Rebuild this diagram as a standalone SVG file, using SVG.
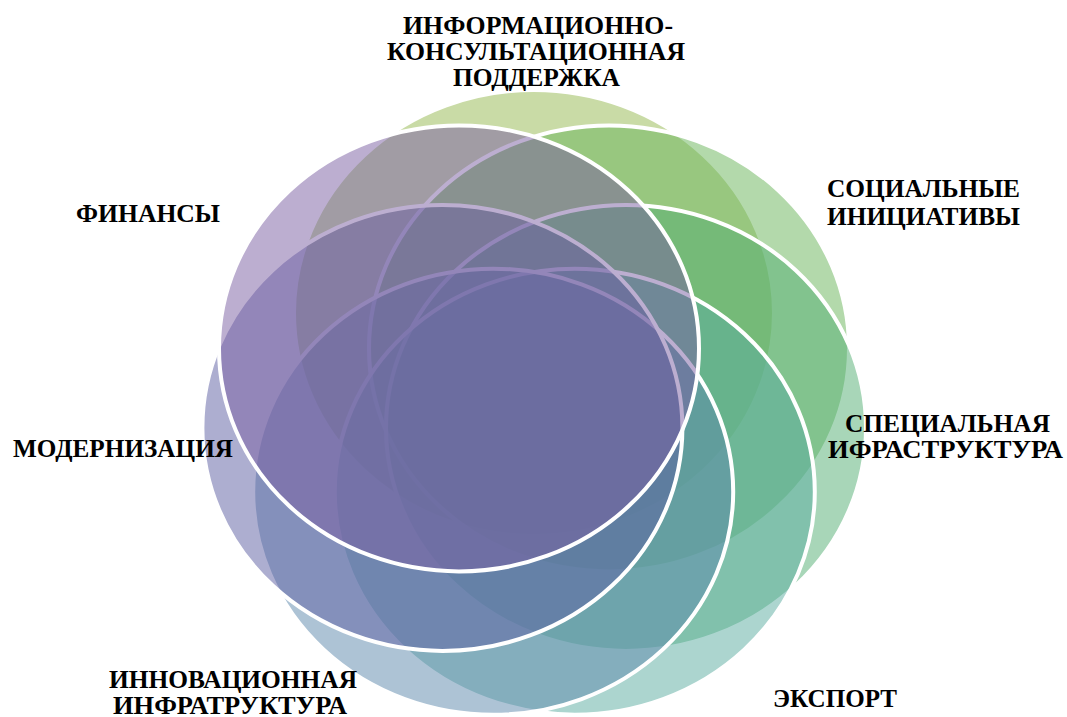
<svg xmlns="http://www.w3.org/2000/svg" width="1067" height="717" viewBox="0 0 1067 717">
<style>
.c{stroke:#ffffff;stroke-width:4;fill-opacity:0.5}
text{font-family:'Liberation Serif','Times New Roman',serif;font-weight:700;font-size:26px;fill:#000000}
</style>
<rect x="0" y="0" width="1067" height="717" fill="#ffffff"/>
<g id="node-info">
<ellipse class="c" cx="534" cy="313" rx="240" ry="223" fill="#93b74d"/>
<text x="403" y="34" textLength="270" lengthAdjust="spacingAndGlyphs">ИНФОРМАЦИОННО-</text>
<text x="387" y="60" textLength="298" lengthAdjust="spacingAndGlyphs">КОНСУЛЬТАЦИОННАЯ</text>
<text x="453" y="86" textLength="167" lengthAdjust="spacingAndGlyphs">ПОДДЕРЖКА</text>
</g>
<g id="node-social">
<ellipse class="c" cx="609" cy="348.4" rx="240" ry="223" fill="#67b357"/>
<text x="827" y="197" textLength="193" lengthAdjust="spacingAndGlyphs">СОЦИАЛЬНЫЕ</text>
<text x="827" y="225" textLength="193" lengthAdjust="spacingAndGlyphs">ИНИЦИАТИВЫ</text>
</g>
<g id="node-special">
<ellipse class="c" cx="626" cy="427.9" rx="240" ry="223" fill="#51ad71"/>
<text x="845" y="432" textLength="205" lengthAdjust="spacingAndGlyphs">СПЕЦИАЛЬНАЯ</text>
<text x="828" y="458" textLength="235" lengthAdjust="spacingAndGlyphs">ИФРАСТРУКТУРА</text>
</g>
<g id="node-export">
<ellipse class="c" cx="574.8" cy="491.7" rx="240" ry="223" fill="#59ab9f"/>
<text x="773" y="707" textLength="124" lengthAdjust="spacingAndGlyphs">ЭКСПОРТ</text>
</g>
<g id="node-innovation">
<ellipse class="c" cx="493.2" cy="491.7" rx="240" ry="223" fill="#5b87ab"/>
<text x="109" y="688" textLength="248" lengthAdjust="spacingAndGlyphs">ИННОВАЦИОННАЯ</text>
<text x="113" y="714" textLength="234" lengthAdjust="spacingAndGlyphs">ИНФРАТРУКТУРА</text>
</g>
<g id="node-modern">
<ellipse class="c" cx="442.4" cy="427.9" rx="240" ry="223" fill="#5b5da1"/>
<text x="13" y="457" textLength="220" lengthAdjust="spacingAndGlyphs">МОДЕРНИЗАЦИЯ</text>
</g>
<g id="node-finance">
<ellipse class="c" cx="459" cy="348.4" rx="240" ry="223" fill="#795da1"/>
<text x="76" y="222" textLength="144" lengthAdjust="spacingAndGlyphs">ФИНАНСЫ</text>
</g>
<g id="connectors"/>
</svg>
